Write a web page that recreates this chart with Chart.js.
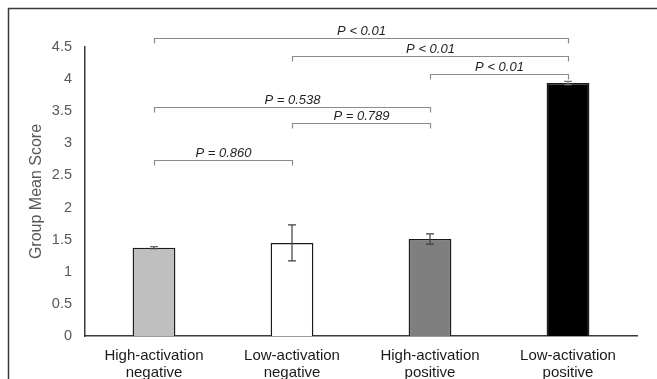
<!DOCTYPE html>
<html lang="en">
  <head>
    <meta charset="UTF-8" />
    <title>group mean score</title>
    <script src="https://cdn.jsdelivr.net/npm/chart.js@4.4.1/dist/chart.umd.min.js"></script>
    <style>
      html, body { margin: 0; padding: 0; background: #fff; }
      #wrap { width: 657px; height: 379px; }
    </style>
  </head>
  <body>
    <div id="wrap"><canvas id="myChart" width="657" height="379"></canvas></div>

    <script>
      // data
      const categories = [
        ['High-activation', 'negative'],
        ['Low-activation', 'negative'],
        ['High-activation', 'positive'],
        ['Low-activation', 'positive']
      ];
      const means = [1.375, 1.45, 1.51, 3.94];
      const errors = [0.015, 0.28, 0.08, 0.025];
      const barColors = ['#bfbfbf', '#ffffff', '#7f7f7f', '#000000'];

      // significance brackets (category index from/to, height in score units)
      const bracketFrom = [0, 1, 2, 0, 1, 0];
      const bracketTo = [3, 3, 3, 2, 2, 1];
      const bracketLevel = [4.64, 4.36, 4.08, 3.57, 3.32, 2.74];
      const bracketLabel = ['P < 0.01', 'P < 0.01', 'P < 0.01', 'P = 0.538', 'P = 0.789', 'P = 0.860'];

      const FONT = '"Liberation Sans", Arial, sans-serif';

      const framePlugin = {
        id: 'frame',
        beforeDraw(chart) {
          const ctx = chart.ctx;
          ctx.save();
          ctx.fillStyle = '#fff';
          ctx.fillRect(0, 0, chart.width, chart.height);
          ctx.strokeStyle = '#3a3a3a';
          ctx.lineWidth = 1.5;
          ctx.beginPath();
          ctx.moveTo(8.5, chart.height);
          ctx.lineTo(8.5, 8.5);
          ctx.lineTo(chart.width, 8.5);
          ctx.stroke();
          ctx.restore();
        }
      };

      const errorBars = {
        id: 'errorBars',
        afterDatasetsDraw(chart) {
          const ctx = chart.ctx;
          const y = chart.scales.y;
          const meta = chart.getDatasetMeta(0);
          ctx.save();
          ctx.lineWidth = 1.2;
          meta.data.forEach((bar, i) => {
            const top = y.getPixelForValue(means[i] + errors[i]);
            const bot = y.getPixelForValue(means[i] - errors[i]);
            ctx.strokeStyle = i === 3 ? '#777' : '#404040';
            ctx.beginPath();
            ctx.moveTo(bar.x, top);
            ctx.lineTo(bar.x, bot);
            ctx.moveTo(bar.x - 4, top);
            ctx.lineTo(bar.x + 4, top);
            ctx.moveTo(bar.x - 4, bot);
            ctx.lineTo(bar.x + 4, bot);
            ctx.stroke();
          });
          ctx.restore();
        }
      };

      const brackets = {
        id: 'brackets',
        afterDraw(chart) {
          const ctx = chart.ctx;
          const x = chart.scales.x;
          const y = chart.scales.y;
          ctx.save();
          ctx.lineWidth = 1.2;
          ctx.strokeStyle = '#8c8c8c';
          ctx.fillStyle = '#1f1f1f';
          ctx.font = 'italic 13px ' + FONT;
          ctx.textAlign = 'center';
          ctx.textBaseline = 'alphabetic';
          for (let i = 0; i < bracketLabel.length; i++) {
            const x1 = Math.round(x.getPixelForValue(bracketFrom[i])) + 0.5;
            const x2 = Math.round(x.getPixelForValue(bracketTo[i])) + 0.5;
            const yy = Math.round(y.getPixelForValue(bracketLevel[i])) + 0.5;
            ctx.beginPath();
            ctx.moveTo(x1, yy + 5);
            ctx.lineTo(x1, yy);
            ctx.lineTo(x2, yy);
            ctx.lineTo(x2, yy + 5);
            ctx.stroke();
            ctx.fillText(bracketLabel[i], (x1 + x2) / 2, yy - 4);
          }
          ctx.restore();
        }
      };

      const ctx = document.getElementById('myChart').getContext('2d');
      const myChart = new Chart(ctx, {
        type: 'bar',
        data: {
          labels: categories,
          datasets: [{
            data: means,
            backgroundColor: barColors,
            borderColor: '#1a1a1a',
            borderWidth: 1.5,
            barPercentage: 0.31,
            categoryPercentage: 1
          }]
        },
        options: {
          responsive: false,
          animation: false,
          devicePixelRatio: 1,
          layout: { padding: { top: 47, right: 20, left: 0, bottom: 0 } },
          plugins: { legend: { display: false }, tooltip: { enabled: false } },
          scales: {
            x: {
              grid: { display: false, drawTicks: false },
              border: { display: true, color: '#3a3a3a', width: 1.5 },
              ticks: {
                color: '#1a1a1a',
                font: { family: FONT, size: 15, lineHeight: 1.15 },
                padding: 11,
                maxRotation: 0,
                autoSkip: false
              },
              afterFit(scale) { scale.height = 43; }
            },
            y: {
              min: 0,
              max: 4.5,
              grid: { display: false, drawTicks: false },
              border: { display: true, color: '#3a3a3a', width: 1.5 },
              ticks: {
                stepSize: 0.5,
                color: '#595959',
                font: { family: FONT, size: 14.5 },
                padding: 13,
                callback: (v) => String(v)
              },
              title: {
                display: true,
                text: 'Group Mean Score',
                color: '#595959',
                font: { family: FONT, size: 16 },
                padding: { top: 27, bottom: 0 }
              },
              afterFit(scale) { scale.width = 85; }
            }
          }
        },
        plugins: [framePlugin, errorBars, brackets]
      });
    </script>
  </body>
</html>
